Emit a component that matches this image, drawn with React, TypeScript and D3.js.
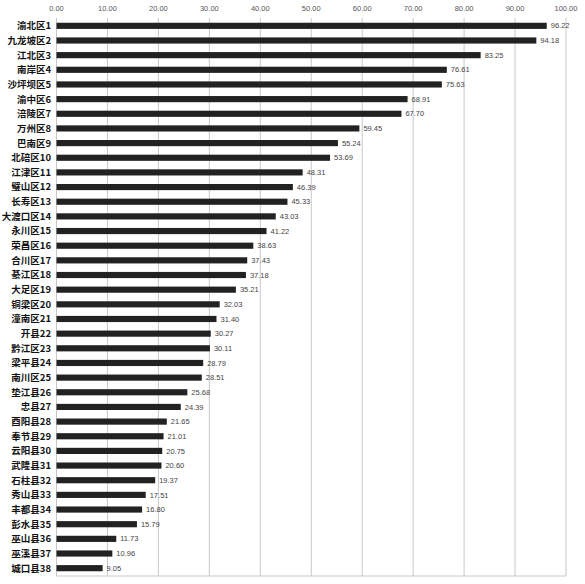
import React, { useEffect, useRef } from "react";
import * as d3 from "d3";

const names: string[] = [
  "渝北区", "九龙坡区", "江北区", "南岸区", "沙坪坝区", "渝中区", "涪陵区", "万州区", "巴南区", "北碚区",
  "江津区", "璧山区", "长寿区", "大渡口区", "永川区", "荣昌区", "合川区", "綦江区", "大足区", "铜梁区",
  "潼南区", "开县", "黔江区", "梁平县", "南川区", "垫江县", "忠县", "酉阳县", "奉节县", "云阳县",
  "武隆县", "石柱县", "秀山县", "丰都县", "彭水县", "巫山县", "巫溪县", "城口县",
];
const ranks: number[] = names.map((_, i) => i + 1);
const values: number[] = [
  96.22, 94.18, 83.25, 76.61, 75.63, 68.91, 67.7, 59.45, 55.24, 53.69,
  48.31, 46.39, 45.33, 43.03, 41.22, 38.63, 37.43, 37.18, 35.21, 32.03,
  31.4, 30.27, 30.11, 28.79, 28.51, 25.68, 24.39, 21.65, 21.01, 20.75,
  20.6, 19.37, 17.51, 16.8, 15.79, 11.73, 10.96, 9.05,
];
const ticks: number[] = [0, 10, 20, 30, 40, 50, 60, 70, 80, 90, 100];

const W = 585;
const H = 584;

export default function App() {
  const ref = useRef<SVGSVGElement | null>(null);
  useEffect(() => {
    const svg = d3.select(ref.current);
    svg.selectAll("*").remove();
    const labels = names.map((n, i) => n + ranks[i]);
    const x = d3.scaleLinear().domain([0, 100]).range([56.5, 566]);
    const y = d3
      .scaleBand<string>()
      .domain(labels)
      .range([18.5, 575.5])
      .paddingInner(0.58)
      .paddingOuter(0.29);

    svg.append("rect").attr("width", W).attr("height", H).attr("fill", "#fff");

    // gridlines
    svg
      .append("g")
      .selectAll("line")
      .data(ticks)
      .join("line")
      .attr("x1", (d) => x(d))
      .attr("x2", (d) => x(d))
      .attr("y1", 18)
      .attr("y2", 576)
      .attr("stroke", "#c8c8c8")
      .attr("stroke-width", 1);

    // bottom line
    svg
      .append("line")
      .attr("x1", x(0))
      .attr("x2", x(100))
      .attr("y1", 576)
      .attr("y2", 576)
      .attr("stroke", "#c8c8c8");

    // tick labels
    svg
      .append("g")
      .selectAll("text")
      .data(ticks)
      .join("text")
      .attr("x", (d) => x(d))
      .attr("y", 11)
      .attr("text-anchor", "middle")
      .attr("font-family", "'Liberation Sans', Arial, sans-serif")
      .attr("font-size", 7.5)
      .attr("fill", "#555")
      .text((d) => d3.format(".2f")(d));

    // bars
    svg
      .append("g")
      .selectAll("rect")
      .data(values)
      .join("rect")
      .attr("x", x(0))
      .attr("y", (_, i) => y(labels[i])!)
      .attr("width", (d) => x(d) - x(0))
      .attr("height", y.bandwidth())
      .attr("fill", "#222");

    // value labels
    svg
      .append("g")
      .selectAll("text")
      .data(values)
      .join("text")
      .attr("x", (d) => x(d) + 4)
      .attr("y", (_, i) => y(labels[i])! + y.bandwidth() / 2)
      .attr("dy", "0.35em")
      .attr("font-family", "'Liberation Sans', Arial, sans-serif")
      .attr("font-size", 7.5)
      .attr("fill", "#444")
      .text((d) => d3.format(".2f")(d));

    // category labels
    svg
      .append("g")
      .selectAll("text")
      .data(labels)
      .join("text")
      .attr("x", 51)
      .attr("y", (d) => y(d)! + y.bandwidth() / 2)
      .attr("dy", "0.36em")
      .attr("text-anchor", "end")
      .attr("font-family", "'Noto Sans CJK SC', sans-serif")
      .attr("font-weight", "bold")
      .attr("font-size", 9.5)
      .attr("fill", "#111")
      .text((d) => d);
  }, []);
  return (
    <svg
      ref={ref}
      width={W}
      height={H}
      style={{ position: "absolute", left: 0, top: 0, display: "block" }}
    />
  );
}
